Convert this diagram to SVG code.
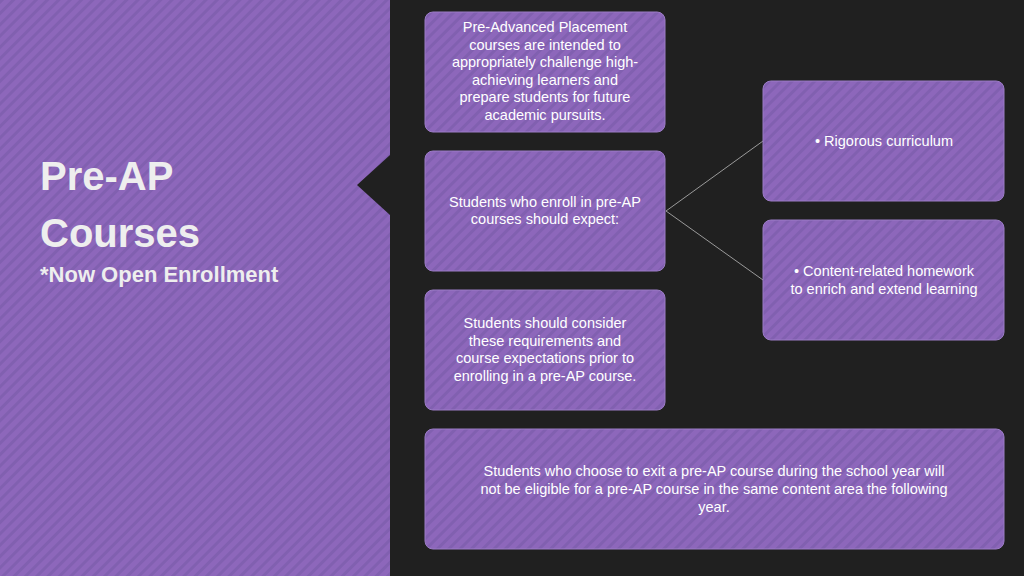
<svg xmlns="http://www.w3.org/2000/svg" width="1024" height="576" viewBox="0 0 1024 576">
<defs>
<pattern id="st" width="8" height="8" patternUnits="userSpaceOnUse" patternTransform="rotate(45)">
<rect width="8" height="8" fill="#8d67bb"/><rect width="3" height="8" fill="#8160b0"/>
</pattern>
<style>
.b{fill:url(#st);stroke:#9b7cc6;stroke-width:1}
.t{font-family:"Century Gothic","Liberation Sans",sans-serif;font-size:14.5px;fill:#ffffff;text-anchor:middle}
.h{font-family:"Liberation Sans",sans-serif;fill:#eeeeee;font-weight:bold}
</style>
</defs>
<rect width="1024" height="576" fill="url(#st)"/>
<path d="M390 0H1024V576H390V215L357 185L390 155Z" fill="#202020"/>
<text class="h" x="40" y="190" font-size="40">Pre-AP</text>
<text class="h" x="40" y="247" font-size="40">Courses</text>
<text class="h" x="40" y="282" font-size="22">*Now Open Enrollment</text>
<g id="connectors" stroke="#9a9a9a" stroke-width="1"><line x1="666" y1="211" x2="763" y2="141"/><line x1="666" y1="211" x2="763" y2="280"/></g>
<g id="n1"><rect class="b" x="425" y="12" width="240" height="120" rx="8"/>
<text class="t"><tspan x="545" y="32">Pre-Advanced Placement</tspan><tspan x="545" y="50">courses are intended to</tspan><tspan x="545" y="67">appropriately challenge high-</tspan><tspan x="545" y="85">achieving learners and</tspan><tspan x="545" y="102">prepare students for future</tspan><tspan x="545" y="120">academic pursuits.</tspan></text></g>
<g id="n2"><rect class="b" x="425" y="151" width="240" height="120" rx="8"/>
<text class="t"><tspan x="545" y="207">Students who enroll in pre-AP</tspan><tspan x="545" y="224">courses should expect:</tspan></text></g>
<g id="n3"><rect class="b" x="425" y="290" width="240" height="120" rx="8"/>
<text class="t"><tspan x="545" y="328">Students should consider</tspan><tspan x="545" y="346">these requirements and</tspan><tspan x="545" y="363">course expectations prior to</tspan><tspan x="545" y="381">enrolling in a pre-AP course.</tspan></text></g>
<g id="n4"><rect class="b" x="763" y="81" width="241" height="120" rx="8"/>
<text class="t" x="884" y="146">• Rigorous curriculum</text></g>
<g id="n5"><rect class="b" x="763" y="220" width="241" height="120" rx="8"/>
<text class="t"><tspan x="884" y="276">• Content-related homework</tspan><tspan x="884" y="294">to enrich and extend learning</tspan></text></g>
<g id="n6"><rect class="b" x="425" y="429" width="579" height="120" rx="8"/>
<text class="t"><tspan x="714" y="476">Students who choose to exit a pre-AP course during the school year will</tspan><tspan x="714" y="494">not be eligible for a pre-AP course in the same content area the following</tspan><tspan x="714" y="512">year.</tspan></text></g>
</svg>
